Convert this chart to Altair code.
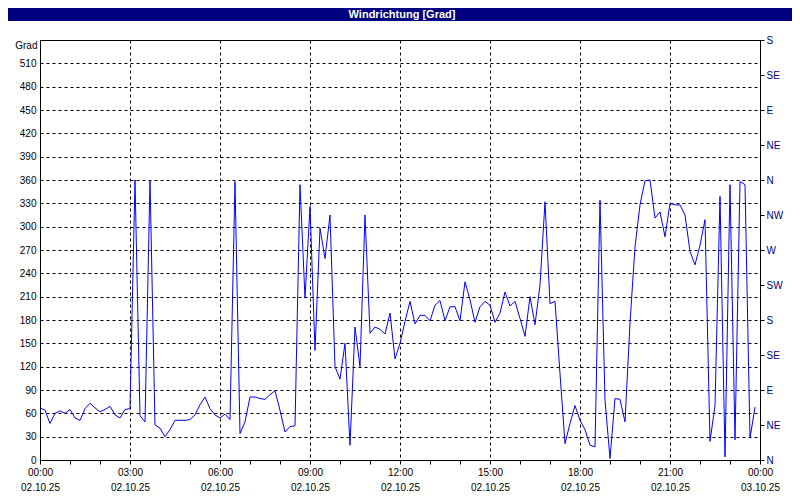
import altair as alt
import pandas as pd

# ---- data ----
minutes = list(range(0, 1440, 10))  # 00:00 .. 23:50, every 10 min
direction = [
    67, 64, 47, 60, 63, 60, 65, 54, 51, 66, 73, 67, 62, 65, 69, 58, 54, 65, 66,
    360, 57, 49, 360, 45, 41, 30, 39, 51, 51, 51, 52, 58, 71, 81, 66, 58, 54, 59, 52,
    358, 34, 49, 81, 81, 79, 78, 84, 89, 64, 36, 43, 44,
    354, 208, 326, 141, 298, 259, 315, 120, 104, 150, 19, 171, 120, 315, 163, 171,
    168, 162, 189, 130, 150, 178, 204, 175, 186, 186, 179, 199, 205, 179, 197, 197,
    179, 229, 206, 177, 197, 204, 199, 177, 189, 216, 198, 204, 182, 159, 210, 174,
    225, 332, 201, 204, 111, 21, 47, 70, 51, 39, 19, 17, 334, 77, 2, 79, 78, 49,
    176, 274, 328, 359, 360, 311, 319, 287, 330, 328, 328, 315, 268, 251, 276, 309,
    24, 70, 339, 4, 354, 26, 358, 354, 28, 68,
]
y_ticks = list(range(0, 540, 30))
compass_values = list(range(0, 541, 45))
compass_labels = ["N", "NE", "E", "SE", "S", "SW", "W", "NW", "N", "NE", "E", "SE", "S"]
x_tick_times = ["00:00", "03:00", "06:00", "09:00", "12:00", "15:00", "18:00", "21:00", "00:00"]
x_tick_dates = ["02.10.25"] * 8 + ["03.10.25"]
title_text = "Windrichtung [Grad]"

df = pd.DataFrame({"m": minutes, "deg": direction})

FONT = "Liberation Sans"
NAVY = "#000080"

labels_js = "[" + ",".join(f"['{t}','{d}']" for t, d in zip(x_tick_times, x_tick_dates)) + "]"
compass_js = "[" + ",".join(f"'{c}'" for c in compass_labels) + "]"

x_enc = alt.X(
    "m:Q",
    scale=alt.Scale(domain=[0, 1440], nice=False, zero=False),
    axis=alt.Axis(
        values=list(range(0, 1441, 60)),
        labelExpr=f"datum.value % 180 == 0 ? {labels_js}[datum.value/180] : ''",
        title=None,
        grid=True,
        gridColor="black",
        gridDash=[3, 3],
        gridOpacity={"condition": {"test": "datum.value % 180 == 0", "value": 1}, "value": 0},
        ticks=True,
        tickSize=4,
        tickColor="black",
        domainColor="black",
        labelFont=FONT,
        labelFontSize=10,
        labelColor="black",
        labelPadding=3,
        labelLineHeight=15,
        labelFlush=False,
        labelOverlap=False,
    ),
)

line = alt.Chart(df).mark_line(color="#0000FF", strokeWidth=1, interpolate="linear").encode(
    x=x_enc,
    y=alt.Y(
        "deg:Q",
        scale=alt.Scale(domain=[0, 540], nice=False, zero=True),
        axis=alt.Axis(
            values=y_ticks,
            title="Grad",
            titleAngle=0,
            titleX=-3,
            titleY=5,
            titleAlign="right",
            titleBaseline="middle",
            titleFont=FONT,
            titleFontSize=10,
            titleFontWeight="normal",
            titleColor="black",
            grid=True,
            gridColor="black",
            gridDash=[3, 3],
            ticks=False,
            domainColor="black",
            labelFont=FONT,
            labelFontSize=10,
            labelColor="black",
            labelPadding=4,
            labelFlush=False,
            labelOverlap=False,
        ),
    ),
)

right = alt.Chart(df).mark_line(opacity=0).encode(
    x=x_enc,
    y=alt.Y(
        "deg:Q",
        scale=alt.Scale(domain=[0, 540], nice=False, zero=True),
        axis=alt.Axis(
            orient="right",
            values=compass_values,
            labelExpr=f"{compass_js}[round(datum.value/45)]",
            title=None,
            grid=False,
            ticks=True,
            tickSize=4,
            tickColor="black",
            domainColor="black",
            labelFont=FONT,
            labelFontSize=10,
            labelColor=NAVY,
            labelPadding=2,
            labelFlush=False,
            labelOverlap=False,
        ),
    ),
)

tdf = pd.DataFrame({"t": [title_text]})
bar = alt.Chart(tdf).mark_rect(color=NAVY).encode(
    x=alt.value(-32), x2=alt.value(752), y=alt.value(-32), y2=alt.value(-19)
)
title = alt.Chart(tdf).mark_text(
    color="white", font=FONT, fontSize=11, fontWeight="bold", align="center", baseline="middle"
).encode(text="t:N", x=alt.value(362), y=alt.value(-25))

chart = (
    alt.layer(line, right, bar, title)
    .resolve_scale(y="independent")
    .properties(
        width=720,
        height=420,
        autosize=alt.AutoSizeParams(type="none"),
        padding={"left": 32, "top": 32, "right": 32, "bottom": 32},
        background="white",
    )
    .configure_view(stroke="black", strokeWidth=1)
)

chart.save("out.html", embed_options={"renderer": "svg", "actions": False})
